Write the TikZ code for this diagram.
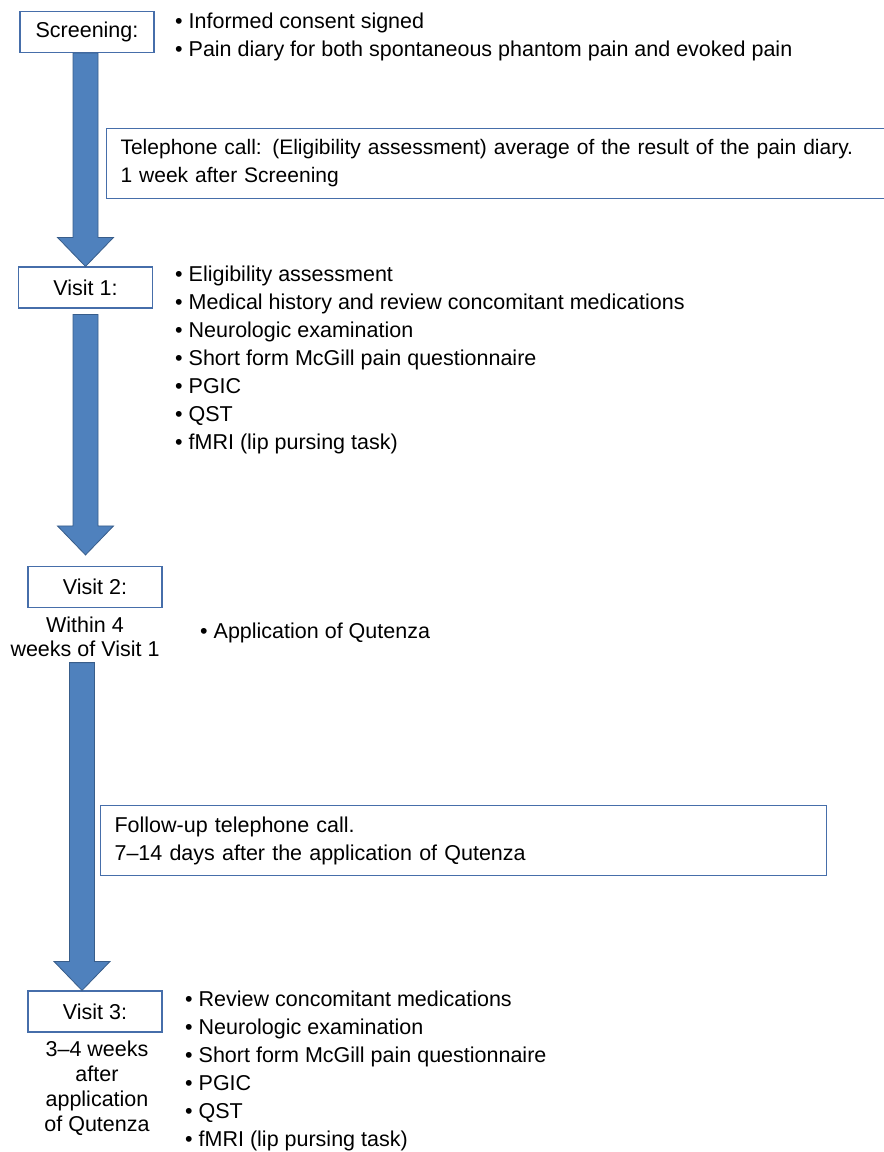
\documentclass[tikz,border=0pt]{standalone}
\usepackage{fontspec}
\setmainfont{Liberation Sans}
\usetikzlibrary{calc}

\definecolor{arrowfill}{RGB}{79,129,189}
\definecolor{arrowedge}{RGB}{56,93,138}
\definecolor{boxedge}{RGB}{70,110,170}

% thick block arrow: shaft from #1 down to the tip at the level of #2
\newcommand{\blockarrow}[2]{%
  \draw[bigarrow] let \p1=#1, \p2=#2 in
    (\x1-12.5pt,\y1) -- (\x1-12.5pt,\y2+29pt) -- (\x1-28pt,\y2+29pt) -- (\x1,\y2)
    -- (\x1+28pt,\y2+29pt) -- (\x1+12.5pt,\y2+29pt) -- (\x1+12.5pt,\y1) -- cycle;}

\begin{document}
\begin{tikzpicture}[x=1pt,y=-1pt,
  every node/.style={font=\fontsize{21.5}{28}\selectfont},
  stage/.style={draw=boxedge,line width=1.1pt,minimum width=134pt,minimum height=41pt,inner sep=0pt},
  call/.style={draw=boxedge,line width=1.1pt,anchor=north west,minimum height=70pt,inner xsep=14pt,align=left},
  items/.style={anchor=north west,align=left,inner sep=0pt},
  when/.style={align=center,inner sep=0pt,font=\fontsize{21.5}{24}\selectfont},
  bigarrow/.style={fill=arrowfill,draw=arrowedge,line width=0.8pt}]

\useasboundingbox (0,0) rectangle (884,1152);

% stages
\node[stage] (screen) at (87,32) {Screening:};
\node[stage] (visit1) at (85.5,287.5) {Visit 1:};
\node[stage] (visit2) at (95,587) {Visit 2:};
\node[stage] (visit3) at (95,1011.5) {Visit 3:};

\node[when] (within) at (85,636.5) {Within 4\\weeks of Visit 1};
\node[when,font=\fontsize{21.5}{25}\selectfont] (after) at (97,1088)
  {3--4 weeks\\after\\application\\of Qutenza};

% arrows between stages
\blockarrow{([xshift=-1.5pt]screen.south)}{(visit1.north)}
\blockarrow{([yshift=-6pt]visit1.south)}{([yshift=11pt]visit2.north)}
\blockarrow{([xshift=-3pt,yshift=-6pt]within.south)}{(visit3.north)}

% telephone calls
\node[call,text width=772pt,font=\fontsize{21}{28}\selectfont] (call1) at (106,128)
  {Telephone call: (Eligibility assessment) average of the result of the pain diary.\\1 week after Screening};
\node[call,text width=698pt] (call2) at (100,805)
  {Follow-up telephone call.\\7--14 days after the application of Qutenza};

% what happens at each stage
\node[items] (screenlist) at (175,13)
  {\textbullet\ Informed consent signed\\
   \textbullet\ Pain diary for both spontaneous phantom pain and evoked pain};
\node[items] (visit1list) at (175,266)
  {\textbullet\ Eligibility assessment\\
   \textbullet\ Medical history and review concomitant medications\\
   \textbullet\ Neurologic examination\\
   \textbullet\ Short form McGill pain questionnaire\\
   \textbullet\ PGIC\\
   \textbullet\ QST\\
   \textbullet\ fMRI (lip pursing task)};
\node[items] (visit2list) at (200,623)
  {\textbullet\ Application of Qutenza};
\node[items] (visit3list) at (185,991)
  {\textbullet\ Review concomitant medications\\
   \textbullet\ Neurologic examination\\
   \textbullet\ Short form McGill pain questionnaire\\
   \textbullet\ PGIC\\
   \textbullet\ QST\\
   \textbullet\ fMRI (lip pursing task)};
\end{tikzpicture}
\end{document}
